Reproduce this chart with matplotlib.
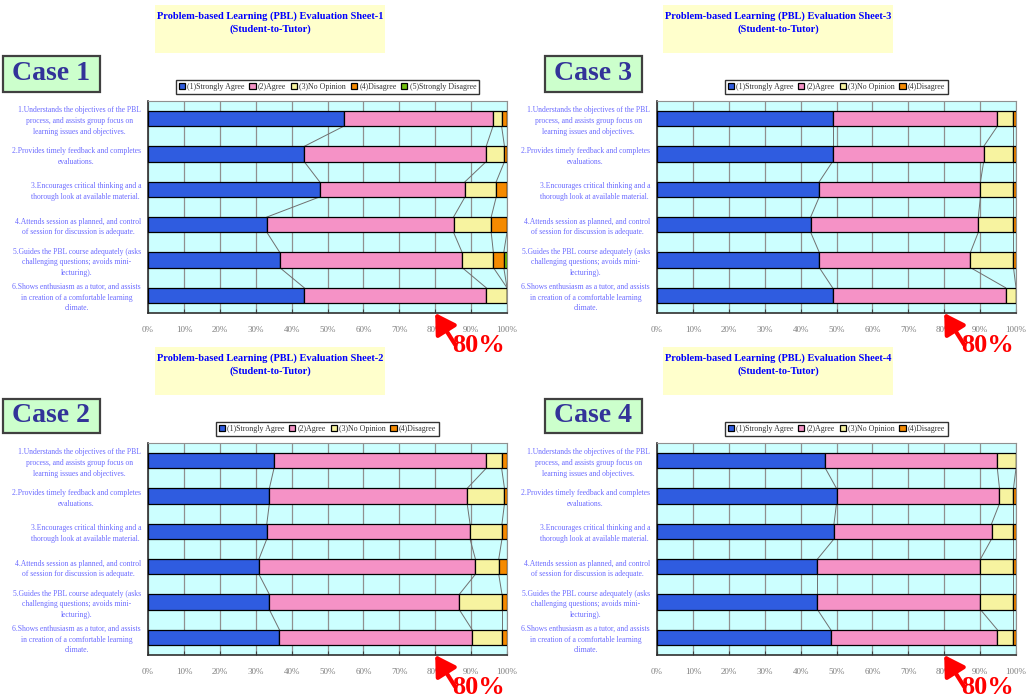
import numpy as np
import matplotlib.pyplot as plt
from matplotlib.patches import Rectangle

# Item wording (y axis)
categories = [
    "1.Understands the objectives of the PBL\nprocess, and assists group focus on\nlearning issues and objectives.",
    "2.Provides timely feedback and completes\nevaluations.",
    "3.Encourages critical thinking and a\nthorough look at available material.",
    "4.Attends session as planned, and control\nof session for discussion is adequate.",
    "5.Guides the PBL course adequately (asks\nchallenging questions; avoids mini-\nlecturing).",
    "6.Shows enthusiasm as a tutor, and assists\nin creation of a comfortable learning\nclimate.",
]
series_names = ["(1)Strongly Agree", "(2)Agree", "(3)No Opinion",
                "(4)Disagree", "(5)Strongly Disagree"]
x_ticks = [0, 10, 20, 30, 40, 50, 60, 70, 80, 90, 100]

# percentages per case, one list per answer
case1_sa = [54.5, 43.5, 47.8, 33.1, 36.7, 43.5]
case1_a = [41.6, 50.7, 40.5, 52.0, 50.8, 50.7]
case1_no = [2.4, 5.1, 8.7, 10.5, 8.7, 5.8]
case1_d = [1.5, 0.7, 3.0, 4.4, 2.9, 0.0]
case1_sd = [0.0, 0.0, 0.0, 0.0, 0.9, 0.0]

case2_sa = [35.1, 33.8, 33.1, 30.9, 33.8, 36.6]
case2_a = [59.1, 55.1, 56.6, 60.3, 52.9, 53.7]
case2_no = [4.3, 10.4, 8.9, 6.5, 11.9, 8.3]
case2_d = [1.5, 0.7, 1.4, 2.3, 1.4, 1.4]

case3_sa = [48.9, 48.9, 45.2, 42.8, 45.2, 48.9]
case3_a = [45.9, 42.1, 44.9, 46.7, 42.1, 48.2]
case3_no = [4.5, 8.3, 9.2, 9.8, 12.0, 2.9]
case3_d = [0.7, 0.7, 0.7, 0.7, 0.7, 0.0]

case4_sa = [46.9, 50.0, 49.3, 44.7, 44.7, 48.4]
case4_a = [47.9, 45.4, 43.9, 45.4, 45.4, 46.4]
case4_no = [5.2, 3.9, 6.1, 9.2, 9.2, 4.5]
case4_d = [0.0, 0.7, 0.7, 0.7, 0.7, 0.7]

colors = ["#2f5ce0", "#f592c6", "#f7f3a0", "#f58a00", "#72c010"]
serif = "Liberation Serif"

W, H = 1028, 698
fig = plt.figure(figsize=(W / 100, H / 100), dpi=100)


def rect_px(x0, y0, x1, y1):
    return [x0 / W, 1 - y1 / H, (x1 - x0) / W, (y1 - y0) / H]


def draw_panel(case_no, series, ax_px, title_px, case_px):
    x0, y0, x1, y1 = ax_px

    # yellow title block
    tx0, ty0, tx1, ty1 = title_px
    fig.patches.append(Rectangle((tx0 / W, 1 - ty1 / H), (tx1 - tx0) / W, (ty1 - ty0) / H,
                                 transform=fig.transFigure, facecolor="#ffffcc",
                                 edgecolor="none", zorder=0))
    fig.text((tx0 + tx1) / 2 / W, 1 - (ty0 + 6) / H,
             f"Problem-based Learning (PBL) Evaluation Sheet-{case_no}\n(Student-to-Tutor)",
             ha="center", va="top", color="#0000ff", fontsize=7.5, fontweight="bold",
             family=serif, linespacing=1.55)

    # "Case n" badge
    cx0, cy0, cx1, cy1 = case_px
    fig.patches.append(Rectangle((cx0 / W, 1 - cy1 / H), (cx1 - cx0) / W, (cy1 - cy0) / H,
                                 transform=fig.transFigure, facecolor="#ccffcc",
                                 edgecolor="#404040", lw=1.6, zorder=1))
    fig.text((cx0 + cx1) / 2 / W, 1 - (cy0 + cy1) / 2 / H, f"Case {case_no}",
             ha="center", va="center", color="#333399", fontsize=20,
             fontweight="bold", family=serif)

    ax = fig.add_axes(rect_px(x0, y0, x1, y1))
    ax.set_facecolor("#ccffff")
    y = np.arange(len(categories))
    left = np.zeros(len(categories))
    ends = []
    for vals, name, col in zip(series, series_names, colors):
        vals = np.array(vals)
        ax.barh(y, vals, left=left, height=0.43, color=col, edgecolor="black",
                linewidth=0.9, label=name, zorder=3)
        left = left + vals
        ends.append(left.copy())

    # Excel style series lines between neighbouring bars
    for e in ends:
        for i in range(len(y) - 1):
            ax.plot([e[i], e[i + 1]], [y[i] + 0.215, y[i + 1] - 0.215],
                    color="#707070", lw=0.7, zorder=2)

    ax.set_xlim(0, 100)
    ax.set_ylim(len(categories) - 0.5, -0.5)
    ax.set_xticks(x_ticks)
    ax.set_xticklabels([f"{t}%" for t in x_ticks], family=serif, fontsize=6.5,
                       color="#808080")
    ax.set_yticks(y)
    ax.set_yticklabels(categories, family=serif, fontsize=5.5, color="#6b6bff")
    for t in ax.get_yticklabels():
        t.set_multialignment("center")
        t.set_linespacing(1.45)
    ax.tick_params(axis="x", direction="in", length=3, pad=9, color="#404040")
    ax.tick_params(axis="y", length=0, pad=5)
    ax.grid(axis="x", color="#909090", lw=0.9, zorder=1)
    for s in ["top", "right"]:
        ax.spines[s].set_color("#909090")
    for s in ["left", "bottom"]:
        ax.spines[s].set_color("#303030")
        ax.spines[s].set_linewidth(1.2)

    leg = ax.legend(loc="lower center", bbox_to_anchor=(0.5, 1.035), ncol=len(series),
                    prop={"family": serif, "size": 5.7}, frameon=True, fancybox=False,
                    edgecolor="black", handlelength=0.8, handleheight=0.8,
                    handletextpad=0.3, columnspacing=0.55, borderpad=0.35,
                    borderaxespad=0)
    leg.get_frame().set_linewidth(1.0)
    for t in leg.get_texts():
        t.set_color("#303030")

    # red 80% marker
    ax.annotate("", xy=(80, len(categories) - 0.5), xycoords="data",
                xytext=(14.5, -23), textcoords="offset points",
                arrowprops=dict(arrowstyle="-|>,head_length=0.75,head_width=0.45",
                                color="red", lw=3, mutation_scale=16,
                                shrinkA=0, shrinkB=0),
                annotation_clip=False)
    fig.text((x1 - 55) / W, 1 - (y1 + 32) / H, "80%", ha="left", va="center",
             color="red", fontsize=19, fontweight="bold", family=serif)
    return ax


draw_panel(1, [case1_sa, case1_a, case1_no, case1_d, case1_sd],
           (148, 101, 507, 313), (155, 5, 385, 53), (3, 56, 100, 92))
draw_panel(3, [case3_sa, case3_a, case3_no, case3_d],
           (657, 101, 1016, 313), (663, 5, 893, 53), (545, 56, 642, 92))
draw_panel(2, [case2_sa, case2_a, case2_no, case2_d],
           (148, 443, 507, 655), (155, 347, 385, 395), (3, 399, 100, 433))
draw_panel(4, [case4_sa, case4_a, case4_no, case4_d],
           (657, 443, 1016, 655), (663, 347, 893, 395), (545, 399, 642, 433))

plt.savefig("out.png", dpi=100)
